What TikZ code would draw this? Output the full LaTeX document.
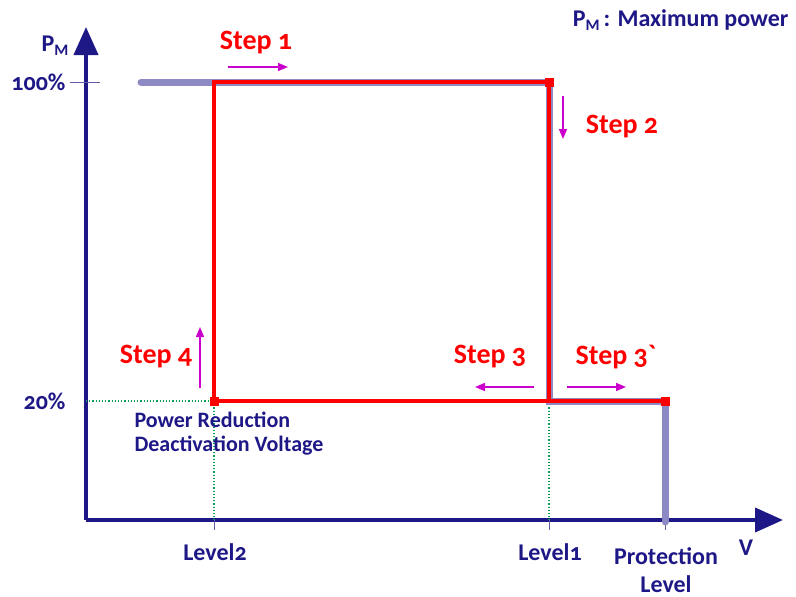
\documentclass[tikz,border=0pt]{standalone}
\usepackage{fontspec}
\setmainfont{Carlito}[Numbers=OldStyle]
\usetikzlibrary{arrows.meta}
\definecolor{pmnavy}{RGB}{30,24,135}
\definecolor{pmlav}{RGB}{141,137,196}
\definecolor{pmred}{RGB}{255,0,0}
\definecolor{pmmag}{RGB}{204,0,204}
\definecolor{pmgreen}{RGB}{0,165,80}
\tikzset{
  pmpic/.style={x=1pt, y=-1pt},
  pm axis/.style={draw=pmnavy, line width=4pt, -{Triangle[length=28pt, width=24pt]}},
  pm tick/.style={draw=pmnavy!70, line width=0.8pt},
  pm guide/.style={draw=pmgreen, line width=1.2pt, dash pattern=on 1.2pt off 2pt},
  pm lim/.style={draw=pmlav, line width=7pt, line cap=round},
  pm path/.style={draw=pmred, line width=4pt},
  pm dot/.style={fill=pmred, minimum size=9pt, inner sep=0pt},
  pm move/.style={draw=pmmag, line width=1.4pt, -{Triangle[length=10pt, width=8pt]}},
  pm step/.style={text=pmred, font=\fontsize{28}{30}\selectfont\bfseries},
  pm lab/.style={text=pmnavy, font=\fontsize{24}{28}\selectfont\bfseries, align=center},
  pm note/.style={text=pmnavy, font=\fontsize{22}{24}\selectfont\bfseries, align=left},
}
\newcommand{\PMsub}{P\raisebox{-0.35ex}{\fontsize{16}{16}\selectfont M}}

\begin{document}
\begin{tikzpicture}[pmpic]
\useasboundingbox (0,0) rectangle (796,597);
% ---- axes ----
\coordinate (o) at (86,520);
\coordinate (ytop) at (86,27);
\coordinate (xend) at (783,520);
\draw[pm axis] (o) -- (ytop);
\draw[pm axis] (o) -- (xend);
\node[pm lab] (ylab) at (55,46) {\PMsub};
\node[pm lab] (vlab) at (746,548) {V};
\node[pm lab, anchor=east] (key) at (792,20) {\PMsub\,: Maximum power};
% ---- levels ----
\coordinate (t100) at (70,82);   \coordinate (t100r) at (100,82);
\node[pm lab, anchor=east] (p100) at (69,82) {100\%};
\node[pm lab, anchor=east] (p20) at (69,401) {20\%};
\coordinate (s) at (141,82);
\coordinate (a) at (214,82);  \coordinate (b) at (549,82);
\coordinate (c) at (549,401); \coordinate (d) at (214,401);
\coordinate (e) at (665,401); \coordinate (f) at (665,520);
\coordinate (y20) at (86,401);
\coordinate (d0) at (214,520); \coordinate (c0) at (549,520);
\coordinate (d1) at (214,530); \coordinate (c1) at (549,530); \coordinate (f1) at (665,530);
\draw[pm tick] (t100) -- (t100r);
\draw[pm guide] (y20) -- (d);
\draw[pm guide] (d) -- (d0);
\draw[pm guide] (c) -- (c0);
\draw[pm tick] (d0) -- (d1); \draw[pm tick] (c0) -- (c1); \draw[pm tick] (f) -- (f1);
\node[pm lab] (lvl2) at (215,552) {Level2};
\node[pm lab] (lvl1) at (550,552) {Level1};
\node[pm lab] (prot) at (666,570) {Protection\\Level};
\node[pm note, anchor=north west] (prd) at (131,408) {Power Reduction\\Deactivation Voltage};
% ---- limit curve ----
\draw[pm lim] (s) -- (b) -- (c) -- (e) -- ([yshift=-2pt]f);
% ---- cycle ----
\draw[pm path] (a) -- (b) -- (c) -- (d) -- cycle;
\draw[pm path] (c) -- (e);
\node[pm dot] (nb) at (b) {};
\node[pm dot] (nd) at (d) {};
\node[pm dot] (ne) at (e) {};
% ---- steps ----
\coordinate (m1a) at (228,67);  \coordinate (m1b) at (288,67);
\coordinate (m2a) at (563,96);  \coordinate (m2b) at (563,139);
\coordinate (m3a) at (534,387); \coordinate (m3b) at (475,387);
\coordinate (m3c) at (567,387); \coordinate (m3d) at (626,387);
\coordinate (m4a) at (200,388); \coordinate (m4b) at (200,327);
\draw[pm move] (m1a) -- (m1b);
\draw[pm move] (m2a) -- (m2b);
\draw[pm move] (m3a) -- (m3b);
\draw[pm move] (m3c) -- (m3d);
\draw[pm move] (m4a) -- (m4b);
\node[pm step] (st1) at (256,43) {Step 1};
\node[pm step] (st2) at (622,127) {Step 2};
\node[pm step] (st3) at (490,357) {Step 3};
\node[pm step] (st3b) at (616,357) {Step 3\textasciigrave};
\node[pm step] (st4) at (156,357) {Step 4};
\end{tikzpicture}
\end{document}
